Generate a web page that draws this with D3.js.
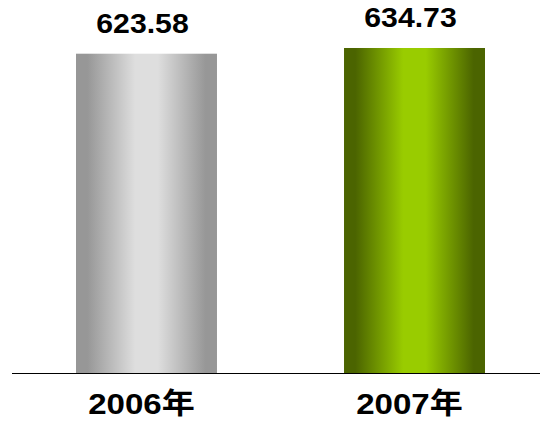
<!DOCTYPE html>
<html><head><meta charset="utf-8">
<script src="https://cdn.jsdelivr.net/npm/d3@7"></script>
<style>html,body{margin:0;padding:0;background:#fff;}svg{display:block;}</style>
</head><body>
<script>
const categories = ["2006年", "2007年"];
const values = [623.58, 634.73];
const valueLabels = ["623.58", "634.73"];
const gradDark = ["#979797", "#4b6400"];
const gradLight = ["#dedede", "#99cc00"];

const W = 540, H = 421;
const svg = d3.select("body").append("svg").attr("width", W).attr("height", H);

const x = d3.scaleBand().domain(categories).range([76, 485]).paddingInner(0.474).paddingOuter(0);
const y = d3.scaleLinear().domain([0, 700]).range([373, 373 - 700 / 1.953]);

const defs = svg.append("defs");
categories.forEach((c, i) => {
  const g = defs.append("linearGradient").attr("id", "g" + i).attr("x1", "0%").attr("x2", "100%").attr("y1", "0%").attr("y2", "0%");
  [[0, gradDark[i]], [0.08, gradDark[i]], [0.42, gradLight[i]], [0.58, gradLight[i]], [0.92, gradDark[i]], [1, gradDark[i]]]
    .forEach(([o, col]) => g.append("stop").attr("offset", o).attr("stop-color", col));
});

svg.selectAll("rect.bar").data(categories).enter().append("rect")
  .attr("class", "bar")
  .attr("x", d => x(d))
  .attr("width", x.bandwidth())
  .attr("y", (d, i) => y(values[i]))
  .attr("height", (d, i) => y(0) - y(values[i]))
  .attr("fill", (d, i) => `url(#g${i})`);

svg.append("line").attr("x1", 12).attr("x2", 540).attr("y1", y(0) + 0.5).attr("y2", y(0) + 0.5)
  .attr("stroke", "#000").attr("stroke-width", 1);

const font = "Arial, 'Liberation Sans', 'Noto Sans CJK SC', sans-serif";
svg.selectAll("text.val").data(categories).enter().append("text")
  .attr("class", "val")
  .attr("transform", (d, i) => `translate(${x(d) + x.bandwidth() / 2 - 4},${y(values[i]) - 21}) scale(1.12,1)`)
  .attr("text-anchor", "middle")
  .style("font-family", font).style("font-weight", "bold").style("font-size", "27px")
  .text((d, i) => valueLabels[i]);

svg.selectAll("text.cat").data(categories).enter().append("text")
  .attr("class", "cat")
  .attr("transform", d => `translate(${x(d) + x.bandwidth() / 2 - 5},414) scale(1.14,1)`)
  .attr("text-anchor", "middle")
  .style("font-family", font).style("font-weight", "bold").style("font-size", "29px")
  .text(d => d);
</script>
</body></html>
